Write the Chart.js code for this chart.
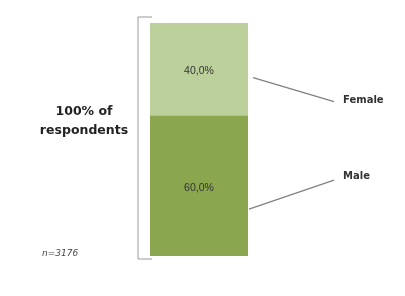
<!DOCTYPE html>
<html>
<head>
<meta charset="utf-8">
<script src="https://cdn.jsdelivr.net/npm/chart.js@4/dist/chart.umd.min.js"></script>
<style>
  html, body { margin: 0; padding: 0; background: #fff; }
  #wrap { width: 405px; height: 296px; }
</style>
</head>
<body>
<div id="wrap"><canvas id="myChart" width="405" height="296"></canvas></div>
<script>
const categories = ["Respondents"];
const seriesNames = ["Male", "Female"];
const maleValues = [60.0];
const femaleValues = [40.0];
const sampleNote = "n=3176";
const totalLabel = ["100% of", "respondents"];

const colors = { Male: "#8aa64e", Female: "#bcd09b" };

// draws labels inside bars, the bracket, leader lines and side texts
const annotations = {
    id: "annotations",
    afterDatasetsDraw(chart) {
        const ctx = chart.ctx;
        const yScale = chart.scales.y;
        const top = yScale.getPixelForValue(100);
        const bottom = yScale.getPixelForValue(0);

        ctx.save();

        // value labels
        ctx.fillStyle = "#333";
        ctx.font = "10.5px 'Liberation Sans', Arial, sans-serif";
        ctx.textAlign = "center";
        ctx.textBaseline = "middle";
        chart.data.datasets.forEach((ds, i) => {
            const bar = chart.getDatasetMeta(i).data[0];
            const mid = (bar.y + bar.base) / 2;
            ctx.fillText(ds.data[0].toFixed(1).replace(".", ",") + "%", bar.x, mid + 2);
        });

        // bracket on the left
        const bar0 = chart.getDatasetMeta(0).data[0];
        const left = bar0.x - bar0.width / 2;
        const right = bar0.x + bar0.width / 2;
        ctx.strokeStyle = "#9a9a9a";
        ctx.lineWidth = 1;
        ctx.beginPath();
        ctx.moveTo(left + 2, top - 6);
        ctx.lineTo(left - 12, top - 6);
        ctx.lineTo(left - 12, bottom + 3);
        ctx.lineTo(left + 2, bottom + 3);
        ctx.stroke();

        // leader lines + series names
        ctx.strokeStyle = "#808080";
        ctx.lineWidth = 1.2;
        ctx.fillStyle = "#333";
        ctx.font = "bold 10px 'DejaVu Sans', sans-serif";
        ctx.textAlign = "left";
        chart.data.datasets.forEach((ds, i) => {
            const bar = chart.getDatasetMeta(i).data[0];
            const mid = (bar.y + bar.base) / 2;
            let y0, y1, ty;
            if (ds.label === "Female") {
                y0 = mid + 8; y1 = mid + 32; ty = y1 - 1;
            } else {
                y0 = mid + 23; y1 = mid - 6; ty = y1 - 4;
            }
            ctx.beginPath();
            ctx.moveTo(right + (ds.label === "Female" ? 5 : 1), y0);
            ctx.lineTo(right + 86, y1);
            ctx.stroke();
            ctx.fillText(ds.label, right + 95, ty);
        });

        // left side text
        ctx.textAlign = "center";
        ctx.font = "bold 12.5px 'DejaVu Sans', sans-serif";
        ctx.fillStyle = "#222";
        ctx.fillText(totalLabel[0], 84, top + 89);
        ctx.fillText(totalLabel[1], 84, top + 108);

        ctx.textAlign = "left";
        ctx.font = "italic 9px 'DejaVu Sans', sans-serif";
        ctx.fillStyle = "#444";
        ctx.fillText(sampleNote, 42, bottom - 2);

        ctx.restore();
    }
};

const ctx = document.getElementById("myChart").getContext("2d");

const chart = new Chart(ctx, {
    type: "bar",
    data: {
        labels: categories,
        datasets: [
            { label: seriesNames[0], data: maleValues, backgroundColor: colors.Male },
            { label: seriesNames[1], data: femaleValues, backgroundColor: colors.Female }
        ]
    },
    options: {
        responsive: false,
        animation: false,
        devicePixelRatio: 1,
        layout: { padding: { left: 150, right: 157, top: 23, bottom: 40 } },
        datasets: { bar: { barPercentage: 1, categoryPercentage: 1 } },
        plugins: {
            legend: { display: false },
            tooltip: { enabled: false }
        },
        scales: {
            x: { stacked: true, display: false },
            y: { stacked: true, display: false, min: 0, max: 100 }
        }
    },
    plugins: [annotations]
});
</script>
</body>
</html>
